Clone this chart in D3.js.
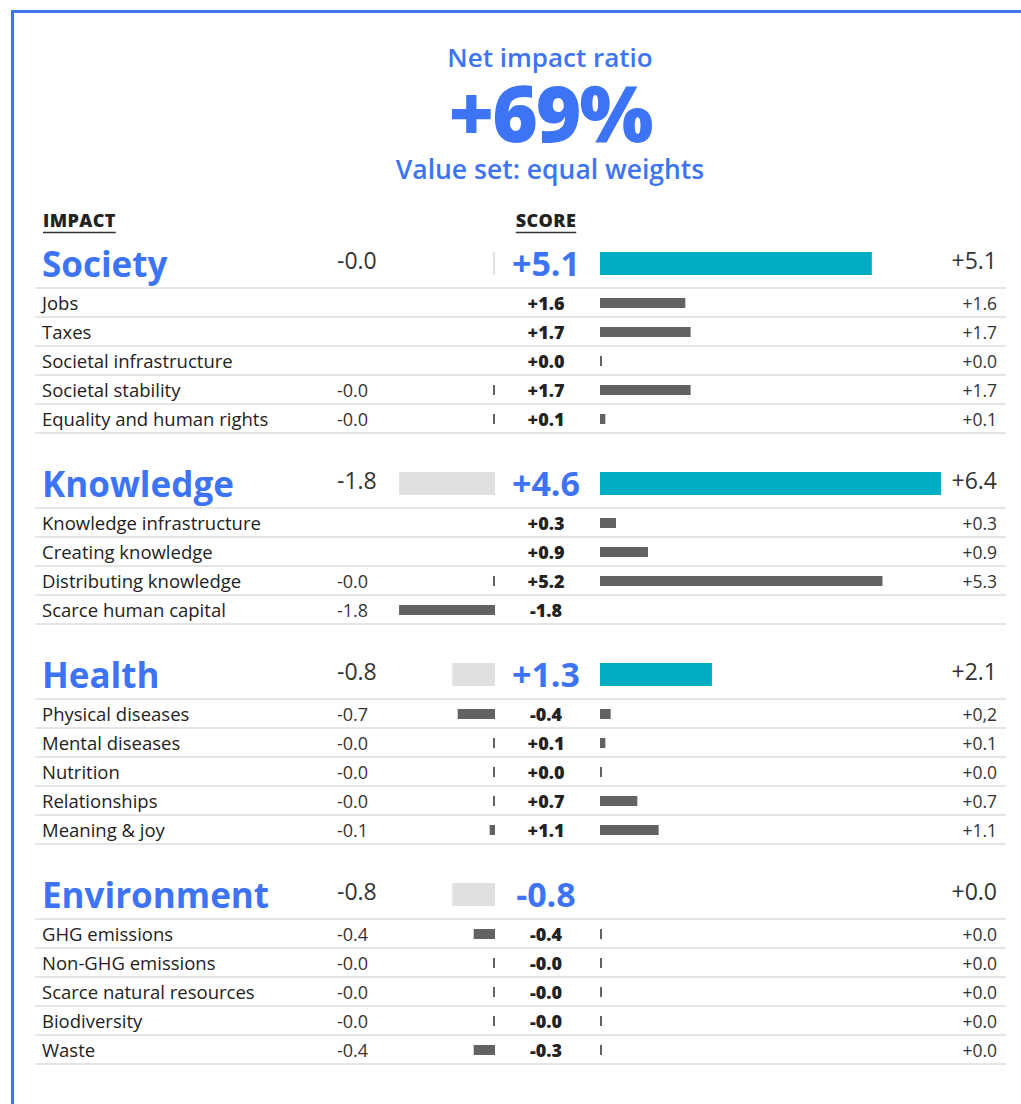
<!DOCTYPE html>
<html>
<head>
<meta charset="utf-8">
<script src="https://cdn.jsdelivr.net/npm/d3@7"></script>
<style>
  html, body { margin: 0; padding: 0; background: #fff; }
  svg { display: block; font-family: "Open Sans", "Noto Sans", sans-serif; }
</style>
</head>
<body>
<svg id="chart" width="1021" height="1104"></svg>
<script>
// Summary figures
const ratioLabel = "Net impact ratio";
const ratioValue = "+69%";
const valueSet = "Value set: equal weights";

// Impact groups: negative total, net score, positive total
const groups = ["Society", "Knowledge", "Health", "Environment"];
const groupNeg = [-0.01, -1.8, -0.8, -0.8];
const groupScore = [5.1, 4.6, 1.3, -0.8];
const groupPos = [5.1, 6.4, 2.1, 0];

// Sub-impacts (null = nothing shown in that column)
const subGroup = [
  "Society", "Society", "Society", "Society", "Society",
  "Knowledge", "Knowledge", "Knowledge", "Knowledge",
  "Health", "Health", "Health", "Health", "Health",
  "Environment", "Environment", "Environment", "Environment", "Environment"
];
const subNames = [
  "Jobs", "Taxes", "Societal infrastructure", "Societal stability", "Equality and human rights",
  "Knowledge infrastructure", "Creating knowledge", "Distributing knowledge", "Scarce human capital",
  "Physical diseases", "Mental diseases", "Nutrition", "Relationships", "Meaning & joy",
  "GHG emissions", "Non-GHG emissions", "Scarce natural resources", "Biodiversity", "Waste"
];
const subNeg = [
  null, null, null, -0.01, -0.01,
  null, null, -0.01, -1.8,
  -0.7, -0.01, -0.01, -0.01, -0.1,
  -0.4, -0.01, -0.01, -0.01, -0.4
];
const subScore = [
  1.6, 1.7, 0.0, 1.7, 0.1,
  0.3, 0.9, 5.2, -1.8,
  -0.4, 0.1, 0.0, 0.7, 1.1,
  -0.4, -0.0, -0.0, -0.0, -0.3
];
const subPos = [
  1.6, 1.7, 0.01, 1.7, 0.1,
  0.3, 0.9, 5.3, null,
  0.2, 0.1, 0.01, 0.7, 1.1,
  0.01, 0.01, 0.01, 0.01, 0.01
];
// Rows whose positive total is printed with a decimal comma
const commaRows = ["Physical diseases"];

const BLUE = "#3d74f6", TEAL = "#00adc2", DARK = "#626262", LIGHT = "#e0e0e0",
      RULE = "#dcdcdc", INK = "#222", NUM = "#333";

const fmt = (v, comma) => {
  const s = (v < 0 || Object.is(v, -0) ? "-" : "+") + Math.abs(v).toFixed(1);
  return comma ? s.replace(".", ",") : s;
};

const svg = d3.select("#chart");

// card border (left and top edges)
svg.append("path")
  .attr("d", "M12.5,1104 V11.5 H1021")
  .attr("fill", "none").attr("stroke", BLUE).attr("stroke-width", 3);

// headline
const cx = 550;
svg.append("text").attr("x", cx).attr("y", 67).attr("text-anchor", "middle")
  .attr("fill", BLUE).attr("font-size", 26).attr("font-weight", 600).text(ratioLabel);
svg.append("text").attr("x", cx).attr("y", 142).attr("text-anchor", "middle")
  .attr("fill", BLUE).attr("font-size", 78).attr("font-weight", 800)
  .attr("letter-spacing", -2).text(ratioValue);
svg.append("text").attr("x", cx).attr("y", 179).attr("text-anchor", "middle")
  .attr("fill", BLUE).attr("font-size", 26.5).attr("font-weight", 600).text(valueSet);

// column headers
const heads = [{t: "IMPACT", x: 43, a: "start"}, {t: "SCORE", x: 546, a: "middle"}];
heads.forEach(h => {
  const t = svg.append("text").attr("x", h.x).attr("y", 227).attr("text-anchor", h.a)
    .attr("fill", INK).attr("font-size", 18).attr("font-weight", 800)
    .attr("letter-spacing", 0.4).text(h.t);
  const bb = t.node().getBBox();
  svg.append("line").attr("x1", bb.x).attr("x2", bb.x + bb.width)
    .attr("y1", 232.5).attr("y2", 232.5).attr("stroke", "#333").attr("stroke-width", 1.6);
});

// bar scales: shared unit length on both sides of the score column
const unit = 53.3;
const xPos = d3.scaleLinear().domain([0, 1]).range([600, 600 + unit]);
const xNeg = d3.scaleLinear().domain([0, 1]).range([495, 495 - unit]);
const barW = v => v === 0 ? 0 : Math.max(2, Math.abs(xPos(Math.abs(v)) - xPos(0)));

const lineX1 = 35, lineX2 = 1006, rowH = 29;
let prevEnd = 213;

groups.forEach((g, gi) => {
  const sep = prevEnd + 75;        // rule beneath the group header
  const barMid = sep - 24.5;

  svg.append("text").attr("x", 42).attr("y", sep - 11).attr("fill", BLUE)
    .attr("font-size", 35).attr("font-weight", 700).text(g);

  // negative total
  const n = groupNeg[gi];
  svg.append("text").attr("x", 337).attr("y", sep - 19).attr("fill", NUM)
    .attr("font-size", 23).text(fmt(n));
  const nw = barW(n);
  if (nw) svg.append("rect").attr("x", xNeg(0) - nw).attr("y", barMid - 11.5)
    .attr("width", nw).attr("height", 23).attr("fill", LIGHT);

  // net score
  svg.append("text").attr("x", 546).attr("y", sep - 12).attr("text-anchor", "middle")
    .attr("fill", BLUE).attr("font-size", 34).attr("font-weight", 700).text(fmt(groupScore[gi]));

  // positive total
  const p = groupPos[gi];
  const pw = barW(p);
  if (pw) svg.append("rect").attr("x", xPos(0)).attr("y", barMid - 11.5)
    .attr("width", pw).attr("height", 23).attr("fill", TEAL);
  svg.append("text").attr("x", 997).attr("y", sep - 19).attr("text-anchor", "end")
    .attr("fill", NUM).attr("font-size", 23).text(fmt(p));

  svg.append("line").attr("x1", lineX1).attr("x2", lineX2).attr("y1", sep).attr("y2", sep)
    .attr("stroke", RULE).attr("stroke-width", 1.5);

  // sub-impact rows
  const idx = subGroup.map((s, i) => s === g ? i : -1).filter(i => i >= 0);
  idx.forEach((i, k) => {
    const bottom = sep + (k + 1) * rowH;
    const base = bottom - 7;
    const mid = bottom - 14;

    svg.append("text").attr("x", 42).attr("y", base).attr("fill", INK)
      .attr("font-size", 18.5).text(subNames[i]);

    const sn = subNeg[i];
    if (sn !== null) {
      svg.append("text").attr("x", 337).attr("y", base).attr("fill", NUM)
        .attr("font-size", 18).text(fmt(sn));
      const w = barW(sn);
      if (w) svg.append("rect").attr("x", xNeg(0) - w).attr("y", mid - 5)
        .attr("width", w).attr("height", 10).attr("fill", DARK);
    }

    svg.append("text").attr("x", 546).attr("y", base).attr("text-anchor", "middle")
      .attr("fill", INK).attr("font-size", 18).attr("font-weight", 800).text(fmt(subScore[i]));

    const sp = subPos[i];
    if (sp !== null) {
      const w = barW(sp);
      if (w) svg.append("rect").attr("x", xPos(0)).attr("y", mid - 5)
        .attr("width", w).attr("height", 10).attr("fill", DARK);
      svg.append("text").attr("x", 997).attr("y", base).attr("text-anchor", "end")
        .attr("fill", NUM).attr("font-size", 17.5)
        .text(fmt(sp, commaRows.includes(subNames[i])));
    }

    svg.append("line").attr("x1", lineX1).attr("x2", lineX2).attr("y1", bottom).attr("y2", bottom)
      .attr("stroke", RULE).attr("stroke-width", 1.5);
    prevEnd = bottom;
  });
});
</script>
</body>
</html>
